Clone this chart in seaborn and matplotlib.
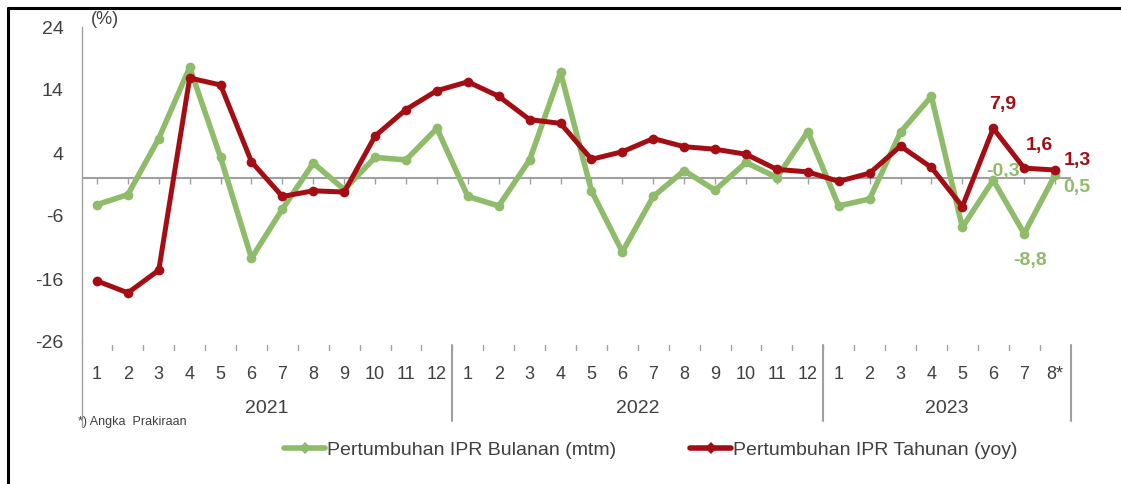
import pandas as pd
import seaborn as sns
import matplotlib.pyplot as plt
from matplotlib.lines import Line2D
import matplotlib.transforms as mtransforms

# Month labels (x categories), year groups and the two growth series
months = ['1', '2', '3', '4', '5', '6', '7', '8', '9', '10', '11', '12',
          '1', '2', '3', '4', '5', '6', '7', '8', '9', '10', '11', '12',
          '1', '2', '3', '4', '5', '6', '7', '8*']
years = ['2021', '2022', '2023']
year_sizes = [12, 12, 8]

mtm = [-4.2, -2.6, 6.3, 17.6, 3.3, -12.7, -4.9, 2.4, -1.8, 3.3, 2.9, 7.9,
       -2.9, -4.4, 2.9, 16.8, -2.0, -11.7, -2.9, 1.2, -1.9, 2.5, 0.1, 7.4,
       -4.4, -3.3, 7.3, 13.0, -7.8, -0.3, -8.8, 0.5]
yoy = [-16.3, -18.2, -14.6, 15.9, 14.8, 2.6, -2.9, -2.0, -2.2, 6.7, 10.9, 13.9,
       15.3, 13.0, 9.3, 8.7, 3.0, 4.2, 6.3, 5.0, 4.6, 3.8, 1.4, 1.0,
       -0.5, 0.8, 5.1, 1.7, -4.5, 7.9, 1.6, 1.3]

label_mtm = 'Pertumbuhan IPR Bulanan (mtm)'
label_yoy = 'Pertumbuhan IPR Tahunan (yoy)'

GREEN = '#8fbc6a'
RED = '#a50d14'
GREY = '#a0a0a0'
TXT = '#404040'

sns.set_style('white')
plt.rcParams['font.family'] = ['Liberation Sans', 'DejaVu Sans']
plt.rcParams['axes.unicode_minus'] = False

df = pd.DataFrame({'idx': range(len(months)), 'mtm': mtm, 'yoy': yoy})

fig = plt.figure(figsize=(11.21, 4.84), dpi=100)
ax = fig.add_axes([81.5 / 1121, 142 / 484, 989 / 1121, 315 / 484])

# zero line with small category ticks
ax.axhline(0, color=GREY, lw=1.5, zorder=1)
ax.plot(df['idx'], [0] * len(df), ls='none', marker=3, ms=4, color=GREY, zorder=1)

sns.lineplot(data=df, x='idx', y='mtm', color=GREEN, lw=4, marker='o',
             markersize=7, markeredgewidth=0, ax=ax, zorder=3)
sns.lineplot(data=df, x='idx', y='yoy', color=RED, lw=3.6, marker='o',
             markersize=7, markeredgewidth=0, ax=ax, zorder=4)

ax.set_xlim(-0.5, len(months) - 0.5)
ax.set_ylim(-26, 24)
ax.set_xlabel('')
ax.set_ylabel('')

# y axis
ax.set_yticks(range(-26, 25, 10))
ax.set_yticks(range(-26, 25, 2), minor=True)
ax.tick_params(axis='y', which='major', direction='out', length=4, width=1,
               color=GREY, labelsize=14, labelcolor=TXT, pad=9)
ax.tick_params(axis='y', which='minor', direction='out', length=3, width=1, color=GREY)

# x axis: month labels below, ticks between categories
ax.set_xticks(range(len(months)))
ax.set_xticklabels(months)
ax.set_xticks([i + 0.5 for i in range(len(months) - 1)], minor=True)
ax.tick_params(axis='x', which='major', length=0, labelsize=13, labelcolor=TXT, pad=17)
ax.tick_params(axis='x', which='minor', direction='in', length=0)

for s in ['top', 'right', 'bottom']:
    ax.spines[s].set_visible(False)
ax.spines['left'].set_color(GREY)
ax.spines['left'].set_linewidth(1)

trans = mtransforms.blended_transform_factory(ax.transData, ax.transAxes)

# small ticks between month labels
for i in range(len(months) - 1):
    ax.plot([i + 0.5, i + 0.5], [-0.008, -0.025], color=GREY, lw=1,
            transform=trans, clip_on=False)

# left axis line extends down, year separators
ax.plot([-0.5, -0.5], [0, -0.27], color=GREY, lw=1, transform=trans, clip_on=False)
start = 0
for yr, n in zip(years, year_sizes):
    end = start + n
    ax.plot([end - 0.5, end - 0.5], [-0.01, -0.25], color=GREY, lw=1.5,
            transform=trans, clip_on=False)
    ax.text((start + end - 1) / 2, -0.21, yr, transform=trans, ha='center',
            va='center', fontsize=14, color=TXT)
    start = end

ax.text(0.009, 1.025, '(%)', transform=ax.transAxes, ha='left', va='center',
        fontsize=13, color=TXT)

# data labels
def lab(i, vals, text, dx, dy, color, z=6):
    ax.annotate(text, (i, vals[i]), xytext=(dx, dy), textcoords='offset points',
                ha='center', va='center', fontsize=14, fontweight='bold',
                color=color, zorder=z)

lab(29, yoy, '7,9', 7, 17, RED)
lab(30, yoy, '1,6', 11, 16, RED)
lab(31, yoy, '1,3', 16, 7, RED)
lab(31, mtm, '0,5', 16, -9, GREEN)
lab(29, mtm, '-0,3', 7, 6, GREEN, z=2)
lab(30, mtm, '-8,8', 4, -19, GREEN)

fig.text(78 / 1121, 1 - 422 / 484, '*) Angka  Prakiraan', fontsize=9,
         color=TXT, ha='left', va='center')

handles = [
    Line2D([], [], color=GREEN, lw=4, marker='D', markersize=6, markeredgewidth=0),
    Line2D([], [], color=RED, lw=4, marker='D', markersize=6, markeredgewidth=0),
]
fig.legend(handles, [label_mtm, label_yoy], loc='center', ncol=2,
           bbox_to_anchor=(651 / 1121, 1 - 450 / 484), frameon=False,
           fontsize=14, handlelength=2.1, handletextpad=0.1, columnspacing=3.8,
           labelcolor=TXT)

# outer frame (top and left edges)
fig.add_artist(Line2D([8 / 1121, 8 / 1121], [0, 1 - 8 / 484],
                      transform=fig.transFigure, color='black', lw=2.2))
fig.add_artist(Line2D([8 / 1121, 1], [1 - 8 / 484, 1 - 8 / 484],
                      transform=fig.transFigure, color='black', lw=2.2))

fig.savefig('out.png', dpi=100)
